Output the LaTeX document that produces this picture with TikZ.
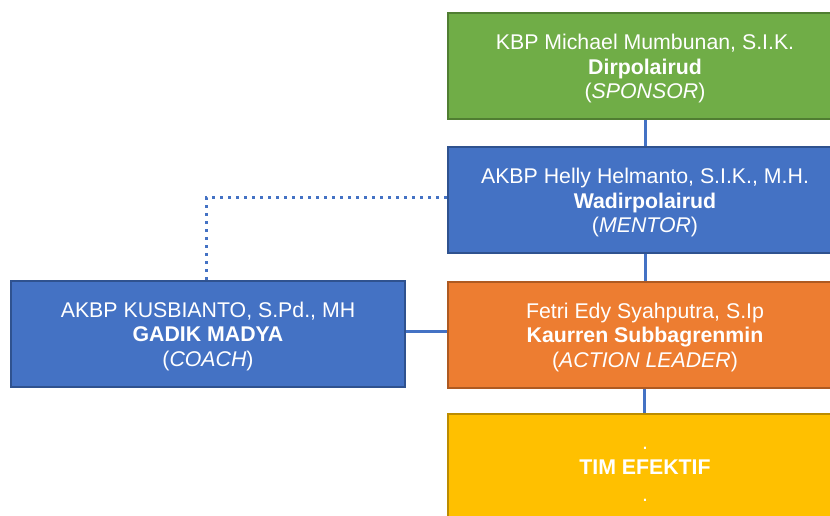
\documentclass[tikz,border=0pt]{standalone}
\usepackage{fontspec}
\setmainfont{Liberation Sans}
\definecolor{cgreen}{HTML}{70AD47}
\definecolor{cgreenb}{HTML}{507E32}
\definecolor{cblue}{HTML}{4472C4}
\definecolor{cblueb}{HTML}{2F528F}
\definecolor{corange}{HTML}{ED7D31}
\definecolor{corangeb}{HTML}{AE5A21}
\definecolor{cyellow}{HTML}{FFC000}
\definecolor{cyellowb}{HTML}{BC8C00}
\newcommand{\topstrut}{\rule{0pt}{21.5pt}}
\newcommand{\botstrut}{\rule[-5pt]{0pt}{5pt}}
\begin{document}
\begin{tikzpicture}[x=1pt,y=-1pt,
  box/.style={draw, line width=2pt, minimum width=394pt, minimum height=106pt,
    text=white, align=center, inner sep=0pt,
    font=\fontsize{21.3}{24.3}\selectfont},
  conn/.style={draw=cblue, line width=3pt},
  dotconn/.style={draw=cblue, line width=3pt, dash pattern=on 3pt off 5pt}]
\useasboundingbox (0,0) rectangle (830,516);
\clip (0,0) rectangle (830,516);
\node[box, fill=cgreen, draw=cgreenb] (sponsor) at (645,66)
  {\topstrut KBP Michael Mumbunan, S.I.K.\\ \textbf{Dirpolairud}\\ (\textit{SPONSOR})\botstrut};
\node[box, fill=cblue, draw=cblueb] (mentor) at (645,200)
  {\topstrut AKBP Helly Helmanto, S.I.K., M.H.\\ \textbf{Wadirpolairud}\\ (\textit{MENTOR})\botstrut};
\node[box, fill=corange, draw=corangeb] (leader) at (645,334.5)
  {\topstrut Fetri Edy Syahputra, S.Ip\\ \textbf{Kaurren Subbagrenmin}\\ (\textit{ACTION LEADER})\botstrut};
\node[box, fill=cyellow, draw=cyellowb] (tim) at (645,467)
  {\topstrut .\\[1pt] \textbf{TIM EFEKTIF}\\[2pt] .\botstrut};
\node[box, fill=cblue, draw=cblueb] (coach) at (208,333.5)
  {\topstrut AKBP KUSBIANTO, S.Pd., MH\\ \textbf{GADIK MADYA}\\ (\textit{COACH})\botstrut};
\draw[conn] (sponsor.south) -- (mentor.north);
\draw[conn] (mentor.south) -- (leader.north);
\draw[conn] ([xshift=-1pt]leader.south) -- ([xshift=-1pt]tim.north);
\draw[conn] ([yshift=2.5pt]coach.east) -- ([yshift=2.5pt]coach.east -| leader.west);
\draw[dotconn] ([xshift=-2pt]coach.north) |- ([yshift=2.5pt]mentor.west);
\end{tikzpicture}
\end{document}
